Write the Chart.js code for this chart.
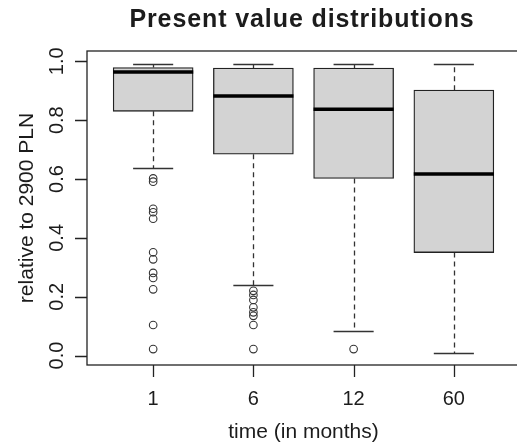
<!DOCTYPE html>
<html>
<head>
<meta charset="utf-8">
<script src="https://cdn.jsdelivr.net/npm/chart.js@4"></script>
<style>
  html, body { margin: 0; padding: 0; background: #fff; overflow: hidden; }
  #wrap { width: 530px; height: 445px; }
</style>
</head>
<body>
<div id="wrap"><canvas id="boxes" width="530" height="445"></canvas></div>
<script>
// === dados ===
const categorias = ['1', '6', '12', '60'];
const bigodeInf = [0.636, 0.240, 0.085, 0.008];
const q1 = [0.830, 0.684, 0.602, 0.350];
const mediana = [0.964, 0.882, 0.837, 0.617];
const q3 = [0.979, 0.977, 0.977, 0.902];
const bigodeSup = [0.990, 0.990, 0.990, 0.990];
const outliers1 = [0.602, 0.591, 0.499, 0.487, 0.465, 0.351, 0.327, 0.281, 0.264, 0.225, 0.104, 0.022];
const outliers6 = [0.220, 0.206, 0.189, 0.164, 0.147, 0.135, 0.104, 0.022];
const outliers12 = [0.022];
const outliers60 = [];
const yTicks = [0, 0.2, 0.4, 0.6, 0.8, 1.0];

const FONTE = '"Liberation Sans", Arial, sans-serif';
const TXT = '#1c1c1c';

const pontosOut = [];
[outliers1, outliers6, outliers12, outliers60].forEach((lista, i) => {
  lista.forEach(v => pontosOut.push({ x: i + 1, y: v }));
});

// desenha bigodes, medianas, moldura e textos estilo R
const estiloR = {
  id: 'estiloR',
  beforeDatasetsDraw(chart) {
    const ctx = chart.ctx;
    const x = chart.scales.x, y = chart.scales.y;
    ctx.save();
    ctx.strokeStyle = '#333';
    ctx.lineWidth = 1.3;
    categorias.forEach((c, i) => {
      const px = Math.round(x.getPixelForValue(i + 1)) + 0.5;
      ctx.setLineDash([5, 4]);
      ctx.beginPath();
      ctx.moveTo(px, y.getPixelForValue(q3[i]));
      ctx.lineTo(px, y.getPixelForValue(bigodeSup[i]));
      ctx.moveTo(px, y.getPixelForValue(q1[i]));
      ctx.lineTo(px, y.getPixelForValue(bigodeInf[i]));
      ctx.stroke();
      ctx.setLineDash([]);
      const a = x.getPixelForValue(i + 1 - 0.2), b = x.getPixelForValue(i + 1 + 0.2);
      ctx.beginPath();
      [bigodeSup[i], bigodeInf[i]].forEach(v => {
        const py = Math.round(y.getPixelForValue(v)) + 0.5;
        ctx.moveTo(a, py);
        ctx.lineTo(b, py);
      });
      ctx.stroke();
    });
    ctx.restore();
  },
  afterDatasetsDraw(chart) {
    const ctx = chart.ctx;
    const x = chart.scales.x, y = chart.scales.y;
    const area = chart.chartArea;
    ctx.save();
    // medianas
    ctx.strokeStyle = '#000';
    ctx.lineWidth = 3.5;
    categorias.forEach((c, i) => {
      const py = y.getPixelForValue(mediana[i]);
      ctx.beginPath();
      ctx.moveTo(x.getPixelForValue(i + 1 - 0.4), py);
      ctx.lineTo(x.getPixelForValue(i + 1 + 0.4), py);
      ctx.stroke();
    });
    // moldura
    ctx.strokeStyle = '#222';
    ctx.lineWidth = 1.3;
    ctx.strokeRect(area.left, area.top, area.right - area.left, area.bottom - area.top);
    // eixo y
    ctx.beginPath();
    yTicks.forEach(t => {
      const py = Math.round(y.getPixelForValue(t)) + 0.5;
      ctx.moveTo(area.left - 12, py);
      ctx.lineTo(area.left, py);
    });
    // eixo x
    categorias.forEach((c, i) => {
      const px = Math.round(x.getPixelForValue(i + 1)) + 0.5;
      ctx.moveTo(px, area.bottom);
      ctx.lineTo(px, area.bottom + 12);
    });
    ctx.stroke();

    ctx.fillStyle = TXT;
    ctx.font = '20px ' + FONTE;
    ctx.textAlign = 'center';
    ctx.textBaseline = 'alphabetic';
    categorias.forEach((c, i) => {
      ctx.fillText(c, x.getPixelForValue(i + 1), 405);
    });
    yTicks.forEach(t => {
      ctx.save();
      ctx.translate(63, y.getPixelForValue(t));
      ctx.rotate(-Math.PI / 2);
      ctx.fillText(t.toFixed(1), 0, 0);
      ctx.restore();
    });
    ctx.font = '21px ' + FONTE;
    ctx.fillText('time (in months)', (area.left + area.right) / 2, 438);
    ctx.save();
    ctx.translate(33, (area.top + area.bottom) / 2);
    ctx.rotate(-Math.PI / 2);
    ctx.fillText('relative to 2900 PLN', 0, 0);
    ctx.restore();
    ctx.font = 'bold 25px ' + FONTE;
    ctx.letterSpacing = '0.9px';
    ctx.fillText('Present value distributions', 302, 27);
    ctx.restore();
  }
};

const ctxBox = document.getElementById('boxes');
new Chart(ctxBox, {
  data: {
    datasets: [{
      type: 'bar',
      label: 'caixas',
      data: categorias.map((c, i) => ({ x: i + 1, y: [q1[i], q3[i]] })),
      backgroundColor: '#d3d3d3',
      borderColor: '#222',
      borderWidth: 1.3,
      borderSkipped: false,
      barThickness: 80
    }, {
      type: 'scatter',
      label: 'outliers',
      data: pontosOut,
      pointRadius: 3.8,
      pointBorderWidth: 1.1,
      borderColor: '#333',
      backgroundColor: 'rgba(0,0,0,0)'
    }]
  },
  options: {
    responsive: false,
    animation: false,
    devicePixelRatio: 1,
    events: [],
    layout: { padding: { left: 87, top: 51, right: 10, bottom: 80 } },
    plugins: { legend: { display: false }, tooltip: { enabled: false } },
    scales: {
      x: { type: 'linear', min: 0.34, max: 4.66, offset: false, display: false },
      y: { type: 'linear', min: -0.032, max: 1.035, display: false }
    }
  },
  plugins: [estiloR]
});
</script>
</body>
</html>
